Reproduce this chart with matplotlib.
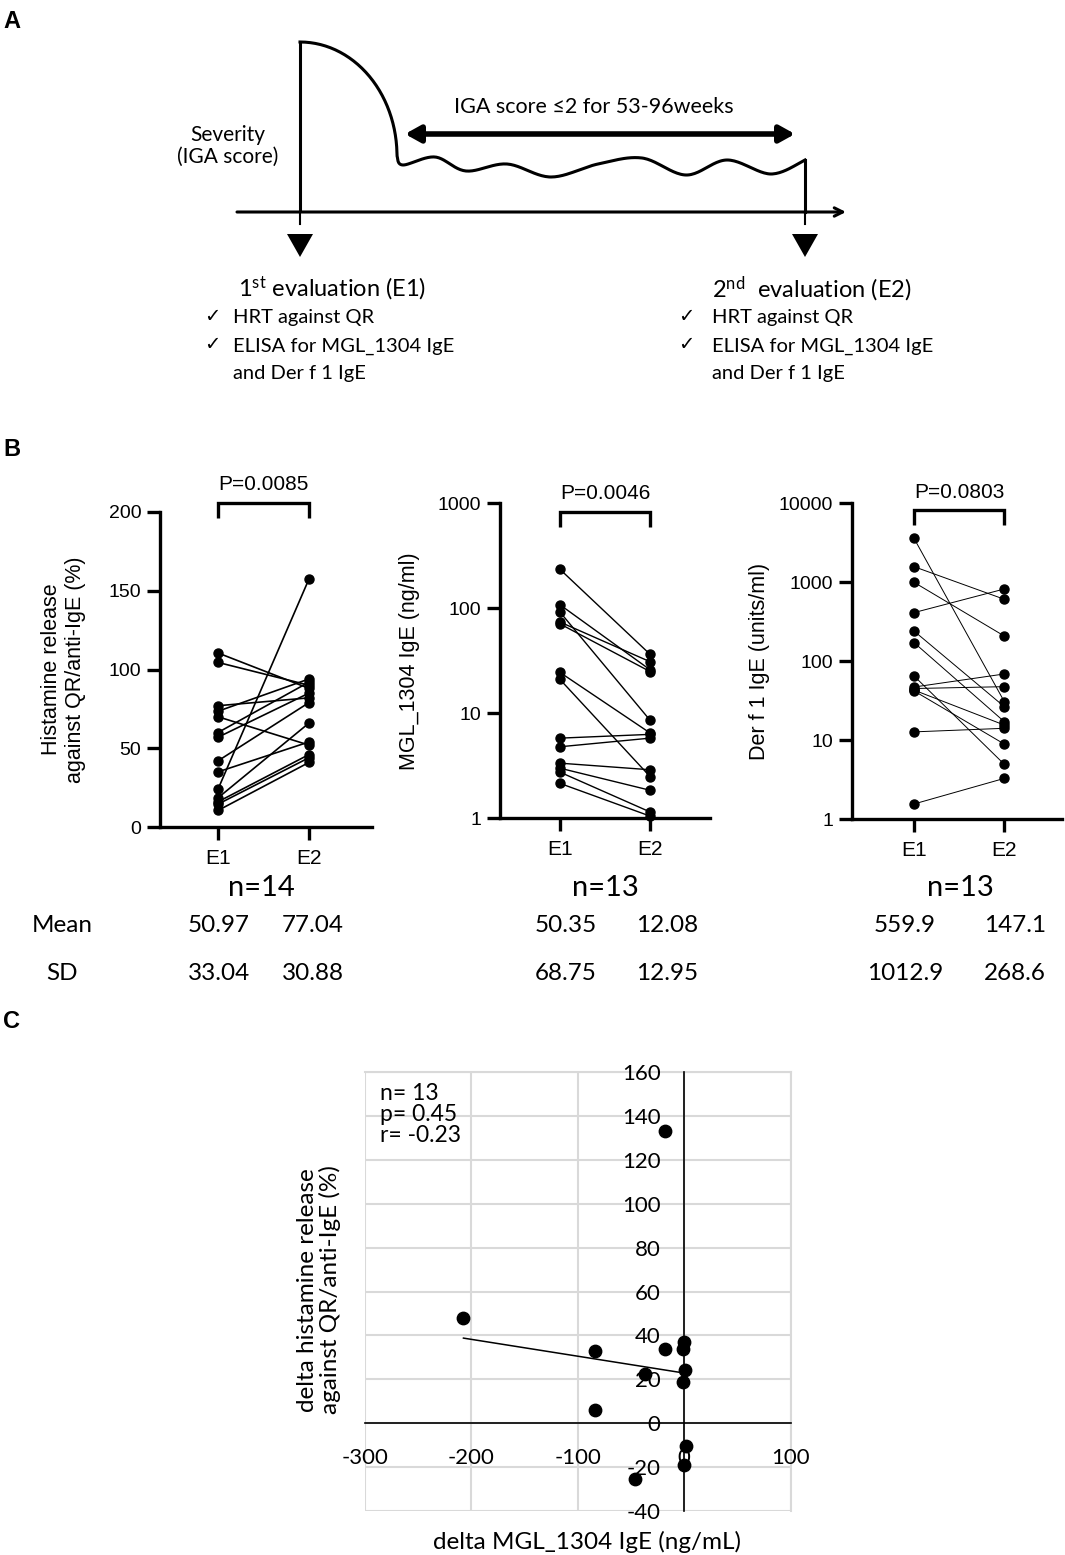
import matplotlib
matplotlib.use('Agg')
import matplotlib.pyplot as plt
import numpy as np
from matplotlib.ticker import FixedLocator, NullLocator, FixedFormatter

plt.rcParams['mathtext.fontset'] = 'custom'
plt.rcParams['mathtext.rm'] = 'Lato'
plt.rcParams['axes.unicode_minus'] = False

W, H = 1065, 1555

# ---- panel B data (paired E1 -> E2) ----
hist_e1 = [110.5, 104.5, 77, 73.5, 70, 60, 57, 42, 35, 24, 18.5, 16, 14.5, 10.5]
hist_e2 = [88, 90, 82, 94, 52, 92, 85, 79, 54, 157.5, 66, 46, 44, 41]
mgl_e1 = [235, 108, 92, 74, 71, 24.5, 21, 5.8, 4.8, 3.35, 3.0, 2.75, 2.15]
mgl_e2 = [36.5, 26, 8.6, 31, 25, 6.5, 2.5, 6.3, 5.8, 2.9, 1.85, 1.15, 1.05]
derf_e1 = [3600, 1575, 998, 412, 241, 172, 65, 47, 45, 43, 42, 12.7, 1.55]
derf_e2 = [30.7, 608, 208, 821, 26.5, 17.1, 4.93, 68.8, 47.5, 15.5, 8.9, 14.1, 3.27]

groups = ['E1', 'E2']
pvals = ['P=0.0085', 'P=0.0046', 'P=0.0803']
ns = ['n=14', 'n=13', 'n=13']
means = [['50.97', '77.04'], ['50.35', '12.08'], ['559.9', '147.1']]
sds = [['33.04', '30.88'], ['68.75', '12.95'], ['1012.9', '268.6']]

# ---- panel C data ----
d_mgl = [-207.5, -84.3, -83.7, -18.5, -18.5, -36.7, -46.1, -0.6, -1.6, 0.9, -1.3, 1.6, 0.0]
d_hist = [47.9, 32.9, 5.8, 133.1, 33.9, 22.5, -25.7, 37.0, 33.9, 24.0, 18.7, -10.6, -19.0]
stats_txt = 'n= 13\np= 0.45\nr= -0.23'

fig = plt.figure(figsize=(W / 100, H / 100), dpi=100)

def px_axes(l, t, r, b):
    return fig.add_axes([l / W, 1 - b / H, (r - l) / W, (b - t) / H])

# overlay in pixel coordinates for schematic and free text
ax0 = fig.add_axes([0, 0, 1, 1])
ax0.set_xlim(0, W)
ax0.set_ylim(H, 0)
ax0.axis('off')

cal = ['Lato', 'DejaVu Sans']
ari = ['Liberation Sans', 'DejaVu Sans']

for lab, y in [('A', 21), ('B', 449), ('C', 1021)]:
    ax0.text(3, y, lab, fontsize=17, fontweight='bold', family=ari, va='center', ha='left')

# ---- panel A schematic ----
def catmull(pts, n=24):
    P = np.asarray(pts, float)
    P = np.vstack([P[0], P, P[-1]])
    out = []
    for i in range(1, len(P) - 2):
        p0, p1, p2, p3 = P[i - 1], P[i], P[i + 1], P[i + 2]
        t = np.linspace(0, 1, n, endpoint=False)[:, None]
        out.append(0.5 * (2 * p1 + (-p0 + p2) * t + (2 * p0 - 5 * p1 + 4 * p2 - p3) * t ** 2
                          + (-p0 + 3 * p1 - 3 * p2 + p3) * t ** 3))
    out.append(P[-2][None, :])
    return np.vstack(out)

th = np.linspace(0, np.pi / 2, 60)
decay = np.column_stack([300 + 97 * np.sin(th), 42 + 114 * (1 - np.cos(th))])
wave = catmull([(397, 156), (403, 165), (435, 157), (466, 171), (507, 164), (551, 177),
                (598, 164), (642, 158), (686, 175), (727, 160), (771, 174), (805, 160)])
curve = np.vstack([decay, wave])
lw_a = 2.2
ax0.plot([300, 300], [212, 42], color='k', lw=lw_a, solid_capstyle='butt')
ax0.plot(curve[:, 0], curve[:, 1], color='k', lw=lw_a)
ax0.plot([805, 805], [160, 212], color='k', lw=lw_a)
ax0.annotate('', xy=(846, 212), xytext=(237, 212),
             arrowprops=dict(arrowstyle='->,head_length=0.6,head_width=0.3', lw=lw_a, color='k',
                             shrinkA=0, shrinkB=0))
for xm in (300, 805):
    ax0.plot([xm, xm], [212, 224], color='k', lw=1.5)
    ax0.fill([xm - 13, xm + 13, xm], [234, 234, 257], color='k', lw=0)
ax0.annotate('', xy=(795, 134), xytext=(405, 134),
             arrowprops=dict(arrowstyle='<|-|>,head_length=0.9,head_width=0.5', lw=4, color='k',
                             shrinkA=0, shrinkB=0))
ax0.text(594, 107, 'IGA score ≤2 for 53-96weeks', fontsize=15.5, family=cal, ha='center', va='center')
ax0.text(228, 146, 'Severity\n(IGA score)', fontsize=15, family=cal, ha='center', va='center',
         linespacing=1.15)

for x0, num, sup, lab in [(238, '1', 'st', ' evaluation (E1)'), (712, '2', 'nd', '  evaluation (E2)')]:
    ax0.text(x0, 289, r'$\mathregular{' + num + '^{' + sup + '}}$' + lab,
             fontsize=17, family=cal, ha='left', va='center')
    xc = x0 - 34
    xt = x0 - 5 if num == '1' else x0
    for yy in (317, 345):
        ax0.text(xc, yy, '✓', fontsize=14, family=['DejaVu Sans'], ha='left', va='center')
    ax0.text(xt, 318, 'HRT against QR', fontsize=14.5, family=cal, ha='left', va='center')
    ax0.text(xt, 346, 'ELISA for MGL_1304 IgE', fontsize=14.5, family=cal, ha='left', va='center')
    ax0.text(xt, 373, 'and Der f 1 IgE', fontsize=14.5, family=cal, ha='left', va='center')

# ---- panel B ----
specs = [
    dict(box=(160, 512, 372, 827), e1=218, e2=309, d1=hist_e1, d2=hist_e2, log=False,
         ylim=(0, 200), ticks=[0, 50, 100, 150, 200], br=(196, 206), lw=1.2, lp=16,
         ylabel='Histamine release\nagainst QR/anti-IgE (%)'),
    dict(box=(500, 503.3, 710, 818.3), e1=560, e2=650, d1=mgl_e1, d2=mgl_e2, log=True,
         ylim=(1, 1000), ticks=[1, 10, 100, 1000], br=(599, 832), lw=1.0, lp=13,
         ylabel='MGL_1304 IgE (ng/ml)'),
    dict(box=(851.7, 503.3, 1062, 819), e1=914, e2=1004.3, d1=derf_e1, d2=derf_e2, log=True,
         ylim=(1, 10000), ticks=[1, 10, 100, 1000, 10000], br=(5308, 8222), lw=0.7, lp=6,
         ylabel='Der f 1 IgE (units/ml)'),
]
for i, s in enumerate(specs):
    l, t, r, b = s['box']
    ax = px_axes(l, t, r, b)
    unit = s['e2'] - s['e1']
    ax.set_xlim(-(s['e1'] - l) / unit, 1 + (r - s['e2']) / unit)
    if s['log']:
        ax.set_yscale('log')
    ax.set_ylim(*s['ylim'])
    for a, c in zip(s['d1'], s['d2']):
        ax.plot([0, 1], [a, c], color='k', lw=s['lw'], marker='o', ms=6.5, clip_on=False, zorder=3)
    ax.plot([0, 0, 1, 1], [s['br'][0], s['br'][1], s['br'][1], s['br'][0]], color='k', lw=2.4,
            clip_on=False, solid_capstyle='butt', solid_joinstyle='miter')
    ax.annotate(pvals[i], (0.5, s['br'][1]), xytext=(0, 6), textcoords='offset points',
                fontsize=15, family=ari, ha='center', va='bottom', annotation_clip=False)
    for sp in ('top', 'right'):
        ax.spines[sp].set_visible(False)
    for sp in ('left', 'bottom'):
        ax.spines[sp].set_linewidth(2.4)
    ax.yaxis.set_major_locator(FixedLocator(s['ticks']))
    ax.yaxis.set_major_formatter(FixedFormatter([str(v) for v in s['ticks']]))
    ax.yaxis.set_minor_locator(NullLocator())
    ax.set_xticks([0, 1])
    ax.set_xticklabels(groups)
    ax.tick_params(length=9.5, width=2.4, labelsize=14, pad=4)
    ax.tick_params(axis='x', labelsize=15, pad=6)
    for tl in ax.get_xticklabels() + ax.get_yticklabels():
        tl.set_family(ari)
    ax.set_ylabel(s['ylabel'], fontsize=15.5, family=ari, labelpad=s['lp'])
    ax.patch.set_alpha(0)

ncent = [261, 605, 960]
vcols = [(219, 313), (566, 667), (905, 1015)]
for i in range(3):
    ax0.text(ncent[i], 888, ns[i], fontsize=21, family=cal, ha='center', va='center')
    for j in range(2):
        ax0.text(vcols[i][j], 926, means[i][j], fontsize=17.5, family=cal, ha='center', va='center')
        ax0.text(vcols[i][j], 973, sds[i][j], fontsize=17.5, family=cal, ha='center', va='center')
ax0.text(62, 926, 'Mean', fontsize=17.5, family=cal, ha='center', va='center')
ax0.text(62, 973, 'SD', fontsize=17.5, family=cal, ha='center', va='center')

# ---- panel C ----
axc = px_axes(365, 1072.3, 790.7, 1510.7)
axc.set_xlim(-300, 100)
axc.set_ylim(-40, 160)
axc.set_xticks([-300, -200, -100, 0, 100])
axc.set_yticks(np.arange(-40, 161, 20))
axc.grid(True, color='#d9d9d9', lw=1.5)
axc.set_axisbelow(True)
for sp in ('top', 'right'):
    axc.spines[sp].set_color('#d9d9d9')
    axc.spines[sp].set_linewidth(1.5)
    axc.spines[sp].set_zorder(0.3)
axc.spines['left'].set_position(('data', 0))
axc.spines['bottom'].set_position(('data', 0))
for sp in ('left', 'bottom'):
    axc.spines[sp].set_linewidth(1.2)
    axc.spines[sp].set_zorder(2)
axc.tick_params(length=0, labelsize=16)
axc.tick_params(axis='y', pad=17)
axc.tick_params(axis='x', pad=18)
for tl in axc.get_xticklabels() + axc.get_yticklabels():
    tl.set_family(cal)
axc.scatter(d_mgl, d_hist, s=80, color='k', zorder=5, clip_on=False)
k, c0 = np.polyfit(d_mgl, d_hist, 1)
xf = np.array([min(d_mgl), max(d_mgl)])
axc.plot(xf, k * xf + c0, color='k', lw=1.1, zorder=4)
axc.text(0.035, 0.975, stats_txt, transform=axc.transAxes, fontsize=16.5, family=cal,
         ha='left', va='top', linespacing=1.0, zorder=6)
ax0.text(319, 1290, 'delta histamine release\nagainst QR/anti-IgE (%)', fontsize=17.5, family=cal,
         rotation=90, ha='center', va='center', linespacing=1.05)
ax0.text(587, 1542, 'delta MGL_1304 IgE (ng/mL)', fontsize=17.5, family=cal, ha='center', va='center')

fig.savefig('out.png', dpi=100)
